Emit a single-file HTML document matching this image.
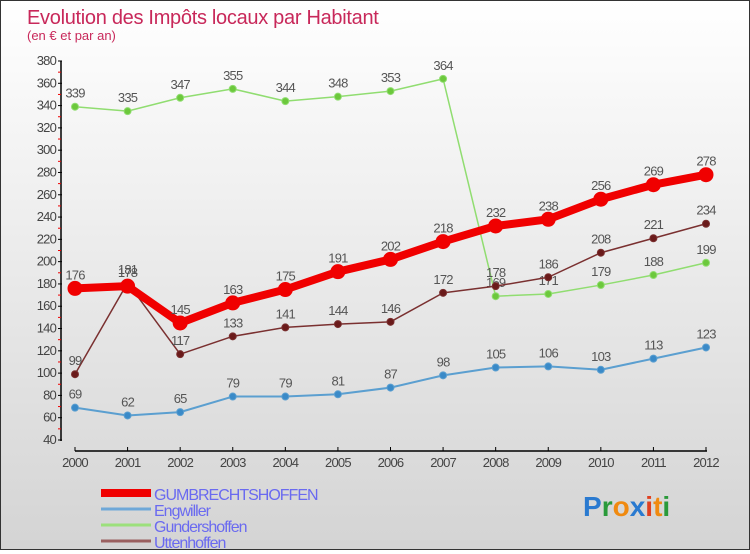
<!DOCTYPE html>
<html><head><meta charset="utf-8"><style>
html,body{margin:0;padding:0}
body{width:750px;height:550px;overflow:hidden;font-family:"Liberation Sans",sans-serif}
#wrap{position:relative;width:748px;height:548px;border:1px solid #333;background:linear-gradient(#ffffff,#d4d4d4)}
</style></head><body>
<div id="wrap">
<svg id="chart" width="748" height="548" xmlns="http://www.w3.org/2000/svg"></svg>
</div>
<script>
const years=[2000,2001,2002,2003,2004,2005,2006,2007,2008,2009,2010,2011,2012];
const gumb=[176,178,145,163,175,191,202,218,232,238,256,269,278];
const engw=[69,62,65,79,79,81,87,98,105,106,103,113,123];
const gund=[339,335,347,355,344,348,353,364,169,171,179,188,199];
const utt=[99,181,117,133,141,144,146,172,178,186,208,221,234];
const yTicks=[40,60,80,100,120,140,160,180,200,220,240,260,280,300,320,340,360,380];
const seriesNames=["GUMBRECHTSHOFFEN","Engwiller","Gundershoffen","Uttenhoffen"];

const svg=document.getElementById('chart');
const NS='http://www.w3.org/2000/svg';
const X0=74,X1=705,Y0=439,Y1=60,VMIN=40,VMAX=380;
function xs(i){return X0+(X1-X0)*i/(years.length-1);}
function ys(v){return Y0-(v-VMIN)*(Y0-Y1)/(VMAX-VMIN);}
function mk(tag,at,parent){const e=document.createElementNS(NS,tag);for(const k in at)e.setAttribute(k,at[k]);(parent||svg).appendChild(e);return e;}

let t=mk('text',{x:26,y:23,'font-size':20,fill:'#c8285a','letter-spacing':'-0.3'});


t.textContent='Evolution des Impôts locaux par Habitant';
t=mk('text',{x:26,y:39,'font-size':13,fill:'#c8285a'});


t.textContent='(en € et par an)';

let ax=mk('line',{x1:60,y1:Y1,x2:60,y2:Y0+1,stroke:'#000','stroke-width':1.5});


yTicks.forEach(v=>{
  const y=ys(v);
  mk('line',{x1:57,y1:y,x2:61,y2:y,stroke:'#000'});
  if(v!==380)mk('line',{x1:57,y1:ys(v+10),x2:60,y2:ys(v+10),stroke:'#e00'});
  const l=mk('text',{x:55,y:y+4,'font-size':13,fill:'#444','text-anchor':'end','letter-spacing':'-0.8'});
  
  
  l.textContent=v;
});
ax=mk('line',{x1:X0,y1:450,x2:X1+1,y2:450,stroke:'#000','stroke-width':1.5});


years.forEach((yr,i)=>{
  const x=xs(i);
  mk('line',{x1:x,y1:446,x2:x,y2:450,stroke:'#000'});
  const l=mk('text',{x:x,y:466,'font-size':13,fill:'#444','text-anchor':'middle','letter-spacing':'-0.8'});
  
  
  l.textContent=yr;
});

function series(data,color,w,r,name,ptFill){
  const g=mk('g',{});
  
  
  const pts=data.map((v,i)=>xs(i)+','+ys(v)).join(' ');
  mk('polyline',{points:pts,fill:'none',stroke:color,'stroke-width':w,'stroke-linejoin':'round'},g);
  data.forEach((v,i)=>{
    const c=mk('circle',{cx:xs(i),cy:ys(v),r:r,fill:ptFill,stroke:color,'stroke-width':1},g);
    
    
    const l=mk('text',{x:xs(i),y:ys(v)-9,'font-size':13,fill:'#555','text-anchor':'middle','letter-spacing':'-0.8'},g);
    
    
    l.textContent=v;
  });
}
series(engw,'#5b9fd0',2,3.5,'engwiller','#3a8ac8');
series(gund,'#90dd70',1.5,3.5,'gundershoffen','#6cc83c');
series(utt,'#7a3030',1.5,3.5,'uttenhoffen','#6a1a1a');
series(gumb,'#f00000',8,7,'gumbrechtshoffen','#f00000');

const lc=['#f00000','#6fa8d8','#9ce07c','#9a6060'];
const lw=[8,3,3,3];
seriesNames.forEach((n,i)=>{
  const y=495+i*16;
  const g=mk('g',{});
  
  
  mk('line',{x1:100,y1:y-3,x2:150,y2:y-3,stroke:lc[i],'stroke-width':lw[i]},g);
  const l=mk('text',{x:153,y:y+4,'font-size':16,fill:'#6a6af0','letter-spacing':'-1'},g);
  l.textContent=n;
});
const logo=mk('text',{x:582,y:515,'font-size':28,'font-weight':'bold','font-family':'Liberation Sans, sans-serif'});


[['P','#2a7ad0'],['r','#2a9a3a'],['o','#f08a10'],['x','#2a7ad0'],['i','#e04020'],['t','#f08a10'],['i','#2a9a3a']].forEach(([c,f])=>{
  const s=mk('tspan',{fill:f},logo);s.textContent=c;});
</script>
</body></html>
